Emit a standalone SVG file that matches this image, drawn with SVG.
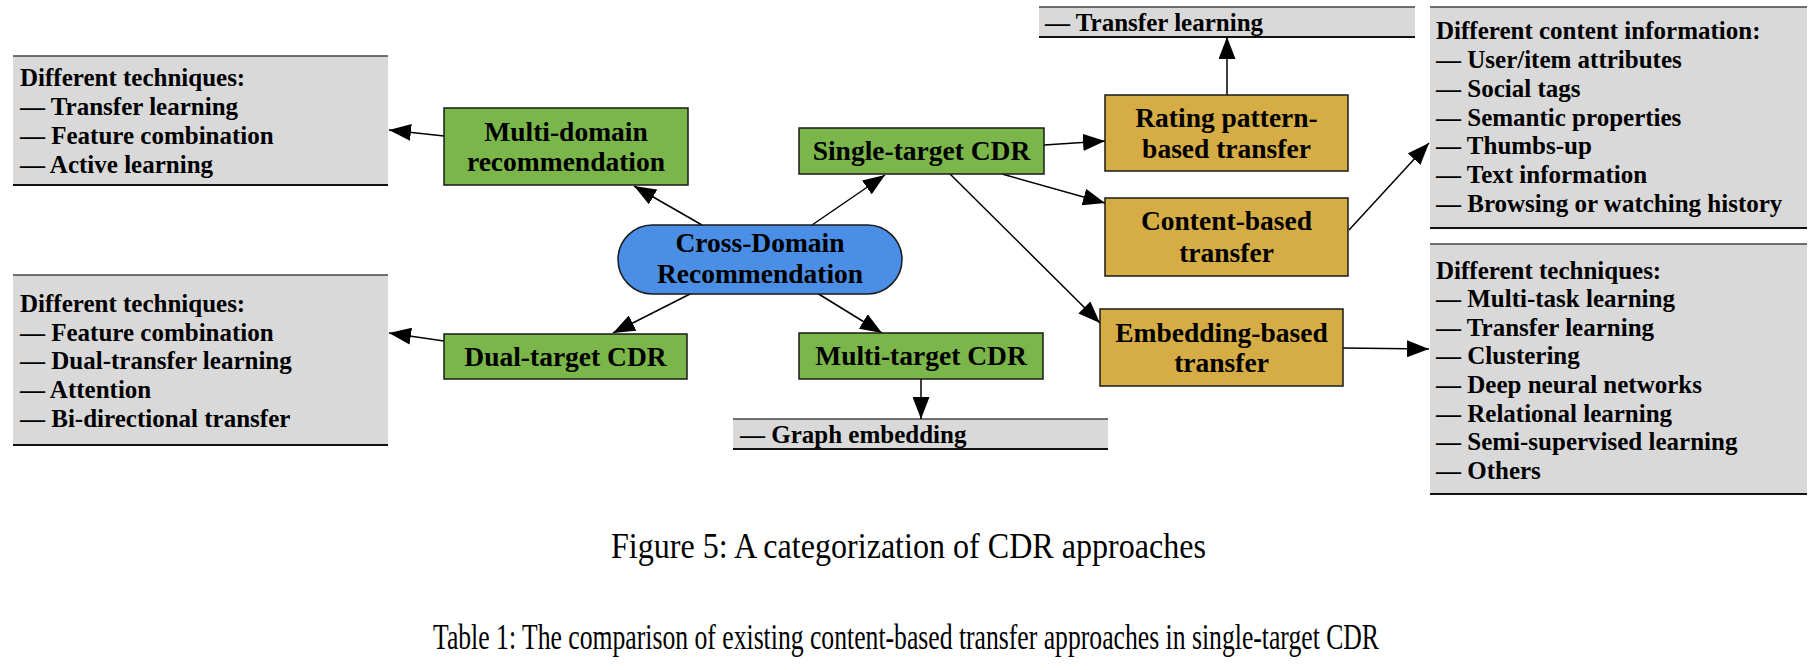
<svg xmlns="http://www.w3.org/2000/svg" width="1810" height="670" viewBox="0 0 1810 670">
<style>
.node text{font-family:"Liberation Serif","Times New Roman",serif;font-weight:bold;font-size:27.5px;fill:#000;text-anchor:middle}
.green{fill:#7bb64b;stroke:#1a1a1a;stroke-width:1.5}
.gold{fill:#d6ad45;stroke:#1a1a1a;stroke-width:1.5}
.blue{fill:#4a8ee6;stroke:#1a1a1a;stroke-width:1.5}
.box rect{fill:#d9d9d9}
.box .top{stroke:#444;stroke-width:1.5}
.box .bot{stroke:#111;stroke-width:2}
.box text{font-family:"Liberation Serif","Times New Roman",serif;font-weight:bold;font-size:25px;fill:#000}
.cap{font-family:"Liberation Serif","Times New Roman",serif;font-size:35px;fill:#000}
#connectors line{stroke:#000;stroke-width:1.5;marker-end:url(#ah)}
</style>
<defs>
<marker id="ah" markerUnits="userSpaceOnUse" markerWidth="22" markerHeight="17" refX="22" refY="8.5" orient="auto">
<path d="M0,0 L22,8.5 L0,17 z" fill="#000"/>
</marker>
</defs>
<rect width="1810" height="670" fill="#fff"/>

<g id="box-multidomain-tech" class="box">
<rect x="13" y="56" width="375" height="129"/>
<line class="top" x1="13" y1="56" x2="388" y2="56"/>
<line class="bot" x1="13" y1="185" x2="388" y2="185"/>
<text x="20" y="86">Different techniques:</text>
<text x="20" y="115">— Transfer learning</text>
<text x="20" y="144">— Feature combination</text>
<text x="20" y="173">— Active learning</text>
</g>

<g id="box-dualtarget-tech" class="box">
<rect x="13" y="275" width="375" height="170"/>
<line class="top" x1="13" y1="275" x2="388" y2="275"/>
<line class="bot" x1="13" y1="445" x2="388" y2="445"/>
<text x="20" y="312">Different techniques:</text>
<text x="20" y="340.5">— Feature combination</text>
<text x="20" y="369">— Dual-transfer learning</text>
<text x="20" y="398">— Attention</text>
<text x="20" y="427">— Bi-directional transfer</text>
</g>

<g id="box-rating-tech" class="box">
<rect x="1039" y="7" width="376" height="30"/>
<line class="top" x1="1039" y1="7" x2="1415" y2="7"/>
<line class="bot" x1="1039" y1="37" x2="1415" y2="37"/>
<text x="1045" y="31">— Transfer learning</text>
</g>

<g id="box-graph" class="box">
<rect x="733" y="419" width="375" height="30"/>
<line class="top" x1="733" y1="419" x2="1108" y2="419"/>
<line class="bot" x1="733" y1="449" x2="1108" y2="449"/>
<text x="740" y="442.5">— Graph embedding</text>
</g>

<g id="box-content-info" class="box">
<rect x="1430" y="7" width="377" height="221"/>
<line class="top" x1="1430" y1="7" x2="1807" y2="7"/>
<line class="bot" x1="1430" y1="228" x2="1807" y2="228"/>
<text x="1436" y="39">Different content information:</text>
<text x="1436" y="68">— User/item attributes</text>
<text x="1436" y="96.5">— Social tags</text>
<text x="1436" y="125.5">— Semantic properties</text>
<text x="1436" y="154">— Thumbs-up</text>
<text x="1436" y="183">— Text information</text>
<text x="1436" y="212">— Browsing or watching history</text>
</g>

<g id="box-embedding-tech" class="box">
<rect x="1430" y="244" width="377" height="250"/>
<line class="top" x1="1430" y1="244" x2="1807" y2="244"/>
<line class="bot" x1="1430" y1="494" x2="1807" y2="494"/>
<text x="1436" y="278.5">Different techniques:</text>
<text x="1436" y="307">— Multi-task learning</text>
<text x="1436" y="335.5">— Transfer learning</text>
<text x="1436" y="364">— Clustering</text>
<text x="1436" y="393">— Deep neural networks</text>
<text x="1436" y="421.5">— Relational learning</text>
<text x="1436" y="450">— Semi-supervised learning</text>
<text x="1436" y="478.5">— Others</text>
</g>

<g id="connectors">
<line x1="702" y1="225" x2="634" y2="186"/>
<line x1="812" y1="225" x2="885" y2="175"/>
<line x1="692" y1="293" x2="613" y2="333"/>
<line x1="817" y1="293" x2="882" y2="333"/>
<line x1="444" y1="136" x2="389" y2="130"/>
<line x1="444" y1="341" x2="389" y2="333"/>
<line x1="1044" y1="145" x2="1105" y2="141"/>
<line x1="1002" y1="174" x2="1105" y2="203"/>
<line x1="950" y1="174" x2="1100" y2="323"/>
<line x1="1227" y1="95" x2="1227" y2="37"/>
<line x1="1349" y1="230" x2="1429" y2="143"/>
<line x1="1343" y1="348" x2="1429" y2="349"/>
<line x1="921" y1="379" x2="921" y2="419"/>
</g>

<g id="node-cdr" class="node">
<rect class="blue" x="618" y="225" width="284" height="69" rx="34.5" ry="34.5"/>
<text x="760" y="252">Cross-Domain</text>
<text x="760" y="283">Recommendation</text>
</g>

<g id="node-multidomain" class="node">
<rect class="green" x="444" y="108" width="244" height="77"/>
<text x="566" y="141">Multi-domain</text>
<text x="566" y="171">recommendation</text>
</g>

<g id="node-single" class="node">
<rect class="green" x="799" y="128" width="245" height="46"/>
<text x="921.5" y="160">Single-target CDR</text>
</g>

<g id="node-dual" class="node">
<rect class="green" x="444" y="334" width="243" height="45"/>
<text x="565.5" y="366">Dual-target CDR</text>
</g>

<g id="node-multitarget" class="node">
<rect class="green" x="799" y="333" width="244" height="46"/>
<text x="921" y="365">Multi-target CDR</text>
</g>

<g id="node-rating" class="node">
<rect class="gold" x="1105" y="95" width="243" height="76"/>
<text x="1226.5" y="127">Rating pattern-</text>
<text x="1226.5" y="158">based transfer</text>
</g>

<g id="node-content" class="node">
<rect class="gold" x="1105" y="198" width="243" height="78"/>
<text x="1226.5" y="230">Content-based</text>
<text x="1226.5" y="262">transfer</text>
</g>

<g id="node-embedding" class="node">
<rect class="gold" x="1100" y="309" width="243" height="77"/>
<text x="1221.5" y="342">Embedding-based</text>
<text x="1221.5" y="372">transfer</text>
</g>

<text class="cap" x="611" y="558" textLength="595" lengthAdjust="spacingAndGlyphs">Figure 5: A categorization of CDR approaches</text>
<text class="cap" x="433" y="649" textLength="946" lengthAdjust="spacingAndGlyphs">Table 1: The comparison of existing content-based transfer approaches in single-target CDR</text>
</svg>
